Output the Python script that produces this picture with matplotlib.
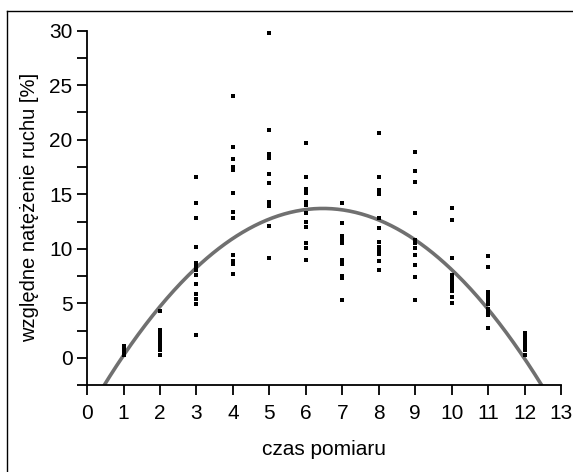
import matplotlib

matplotlib.use("Agg")
import matplotlib.pyplot as plt
import numpy as np
from matplotlib.lines import Line2D
from matplotlib.ticker import MultipleLocator

plt.rcParams["font.family"] = ["Liberation Sans", "DejaVu Sans"]

times = [1, 2, 3, 4, 5, 6, 7, 8, 9, 10, 11, 12]
values = [
    [1.1, 0.9, 0.7, 0.5, 0.3],
    [4.3, 2.6, 2.3, 1.9, 1.6, 1.3, 1.0, 0.7, 0.3],
    [16.6, 14.2, 12.8, 10.2, 8.7, 8.4, 8.1, 7.6, 6.8, 5.9, 5.4, 4.9, 2.1],
    [24.0, 19.3, 18.2, 17.5, 17.2, 15.1, 13.4, 12.8, 9.4, 8.9, 8.6, 7.7],
    [29.8, 20.9, 18.7, 18.3, 16.9, 16.0, 14.3, 13.9, 12.1, 9.2],
    [19.7, 16.6, 15.5, 15.1, 14.3, 14.0, 13.3, 12.5, 12.0, 10.5, 10.1, 9.0],
    [14.2, 12.4, 11.2, 10.9, 10.5, 9.0, 8.6, 7.5, 7.3, 5.3],
    [20.6, 16.6, 15.4, 15.0, 12.8, 11.9, 10.6, 10.2, 9.9, 9.5, 8.9, 8.1],
    [18.9, 17.1, 16.1, 13.3, 10.8, 10.5, 10.1, 9.4, 8.5, 7.4, 5.3],
    [13.7, 12.6, 9.2, 7.6, 7.3, 7.0, 6.7, 6.4, 6.1, 5.6, 5.0],
    [9.3, 8.3, 6.0, 5.8, 5.5, 5.2, 4.9, 4.5, 4.2, 3.9, 2.7],
    [2.3, 2.0, 1.7, 1.4, 1.0, 0.7, 0.3],
]

# quadratic trend as drawn on the chart: vertex and curvature
trend_vertex = (6.47, 13.7)
trend_curvature = -0.45

xs = np.concatenate([[t] * len(v) for t, v in zip(times, values)])
ys = np.concatenate(values)

vx, vy = trend_vertex
coef = [trend_curvature, -2 * trend_curvature * vx, trend_curvature * vx ** 2 + vy]
x_fit = np.linspace(0, 13, 400)
y_fit = np.polyval(coef, x_fit)

fig = plt.figure(figsize=(5.73, 4.72), dpi=100)
ax = fig.add_axes([0.152, 0.184, 0.827, 0.751])

ax.plot(x_fit, y_fit, color="#707070", lw=2.6, zorder=2)
ax.plot(xs, ys, ls="none", marker="s", ms=3.0, mew=0, color="black", zorder=3)

ax.set_xlim(0, 13)
ax.set_ylim(-2.5, 30)
ax.xaxis.set_major_locator(MultipleLocator(1))
ax.yaxis.set_major_locator(MultipleLocator(5))
ax.yaxis.set_minor_locator(MultipleLocator(2.5))

for side in ("top", "right"):
    ax.spines[side].set_visible(False)
for side in ("left", "bottom"):
    ax.spines[side].set_linewidth(1.3)

ax.tick_params(axis="both", which="major", length=7.5, width=1.3, labelsize=15, pad=3)
ax.tick_params(axis="x", which="major", pad=6)
ax.tick_params(axis="y", which="minor", length=7.5, width=1.3)

ax.set_xlabel("czas pomiaru", fontsize=15, labelpad=12)
ax.set_ylabel("względne natężenie ruchu [%]", fontsize=14.5, labelpad=7)

# frame round the figure (only top and left edges show)
fig.add_artist(Line2D([7 / 573, 7 / 573], [0, 1 - 11 / 472], transform=fig.transFigure,
                      color="black", lw=1.0))
fig.add_artist(Line2D([7 / 573, 1], [1 - 11 / 472, 1 - 11 / 472], transform=fig.transFigure,
                      color="black", lw=1.0))

fig.savefig("out.png", dpi=100)
